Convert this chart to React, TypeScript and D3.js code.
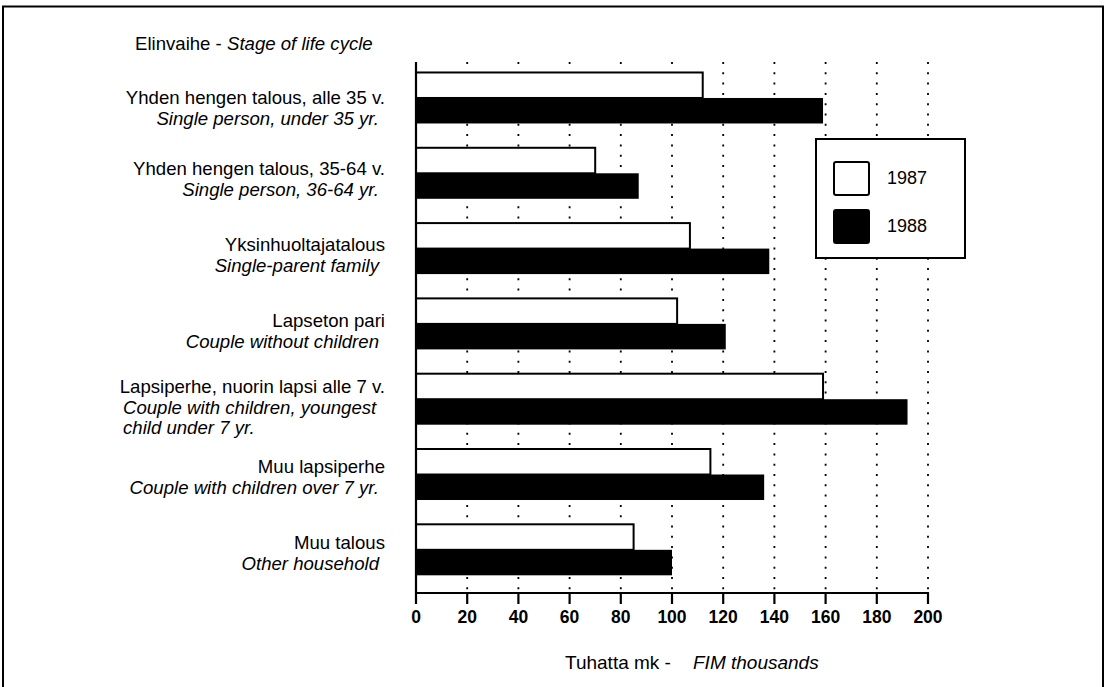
import React from "react";
import * as d3 from "d3";

const categoriesFi = [
  "Yhden hengen talous, alle 35 v.",
  "Yhden hengen talous, 35-64 v.",
  "Yksinhuoltajatalous",
  "Lapseton pari",
  "Lapsiperhe, nuorin lapsi alle 7 v.",
  "Muu lapsiperhe",
  "Muu talous",
];
const categoriesEn = [
  ["Single person, under 35 yr."],
  ["Single person, 36-64 yr."],
  ["Single-parent family"],
  ["Couple without children"],
  ["Couple with children, youngest", "child under 7 yr."],
  ["Couple with children over 7 yr."],
  ["Other household"],
];
const values1987 = [112, 70, 107, 102, 159, 115, 85];
const values1988 = [159, 87, 138, 121, 192, 136, 100];
const seriesNames = ["1987", "1988"];
const xTicks = [0, 20, 40, 60, 80, 100, 120, 140, 160, 180, 200];

const FONT = "'Liberation Sans', Arial, Helvetica, sans-serif";

export default function App() {
  const W = 1106;
  const H = 687;
  const x0 = 416;
  const x1 = 928;
  const yTop = 62;
  const yBot = 593;

  const x = d3.scaleLinear().domain([0, 200]).range([x0, x1]);
  const y = d3
    .scaleBand<number>()
    .domain(d3.range(categoriesFi.length))
    .range([yTop, yBot])
    .paddingInner(0.3227)
    .paddingOuter(0.187)
    .align(0.372);
  const sub = d3.scaleBand<string>().domain(seriesNames).range([0, y.bandwidth()]);

  const labelLine1 = [97, 168, 244, 320, 386, 466, 542];
  const lineGap = 21.5;
  const LFS = 18.6;

  return (
    <svg
      width={W}
      height={H}
      style={{ position: "absolute", left: 0, top: 0, background: "#fff" }}
      fontFamily={FONT}
    >
      <rect x={0} y={0} width={W} height={H} fill="#fff" />
      <rect x={3} y={6.5} width={1100} height={700} fill="none" stroke="#000" strokeWidth={2} />

      {/* header */}
      <text x={135} y={43} dy="0.35em" fontSize={LFS} fill="#000">
        Elinvaihe - <tspan fontStyle="italic">Stage of life cycle</tspan>
      </text>

      {/* gridlines */}
      {xTicks
        .filter((t) => t > 0)
        .map((t) => (
          <line
            key={"g" + t}
            x1={x(t)}
            x2={x(t)}
            y1={yTop}
            y2={yBot}
            stroke="#000"
            strokeWidth={1.8}
            strokeDasharray="2 8.3"
          />
        ))}

      {/* bars */}
      {categoriesFi.map((c, i) => {
        const by = y(i) as number;
        return (
          <g key={"b" + i}>
            <rect
              x={x(0)}
              y={by + (sub("1987") as number)}
              width={x(values1987[i]) - x(0)}
              height={sub.bandwidth()}
              fill="#fff"
              stroke="#000"
              strokeWidth={2}
            />
            <rect
              x={x(0)}
              y={by + (sub("1988") as number)}
              width={x(values1988[i]) - x(0)}
              height={sub.bandwidth()}
              fill="#000"
            />
          </g>
        );
      })}

      {/* axes */}
      <line x1={x0} x2={x0} y1={yTop} y2={yBot} stroke="#000" strokeWidth={2.2} />
      <line x1={x0 - 1} x2={x1 + 1} y1={yBot} y2={yBot} stroke="#000" strokeWidth={2.2} />
      {xTicks.map((t) => (
        <g key={"t" + t}>
          <line x1={x(t)} x2={x(t)} y1={yBot} y2={yBot + 11} stroke="#000" strokeWidth={2.2} />
          <text
            x={x(t)}
            y={617}
            dy="0.35em"
            textAnchor="middle"
            fontSize={17.5}
            fontWeight="bold"
            fill="#000"
          >
            {t}
          </text>
        </g>
      ))}

      {/* category labels */}
      {categoriesFi.map((c, i) => {
        const yl = labelLine1[i];
        const en = categoriesEn[i];
        const multi = en.length > 1;
        return (
          <g key={"l" + i}>
            <text x={385} y={yl} dy="0.35em" textAnchor="end" fontSize={LFS} fill="#000">
              {c}
            </text>
            {en.map((e, k) => (
              <text
                key={k}
                x={multi ? 123 : 379}
                y={yl + lineGap * (k + 1) - (k > 0 ? 2 : 0)}
                dy="0.35em"
                textAnchor={multi ? "start" : "end"}
                fontSize={LFS}
                fontStyle="italic"
                fill="#000"
              >
                {e}
              </text>
            ))}
          </g>
        );
      })}

      {/* legend */}
      <rect x={816} y={139} width={149} height={119} fill="#fff" stroke="#000" strokeWidth={2} />
      {seriesNames.map((s, k) => (
        <g key={"lg" + s}>
          <rect
            x={834}
            y={162 + k * 48}
            width={35}
            height={33}
            rx={2}
            fill={k === 0 ? "#fff" : "#000"}
            stroke="#000"
            strokeWidth={2}
          />
          <text x={887} y={178 + k * 48} dy="0.35em" fontSize={18} fill="#000">
            {s}
          </text>
        </g>
      ))}

      {/* x-axis title */}
      <text x={565} y={662} dy="0.35em" fontSize={19} fill="#000">
        Tuhatta mk -
      </text>
      <text x={693} y={662} dy="0.35em" fontSize={19} fontStyle="italic" fill="#000">
        FIM thousands
      </text>
    </svg>
  );
}
